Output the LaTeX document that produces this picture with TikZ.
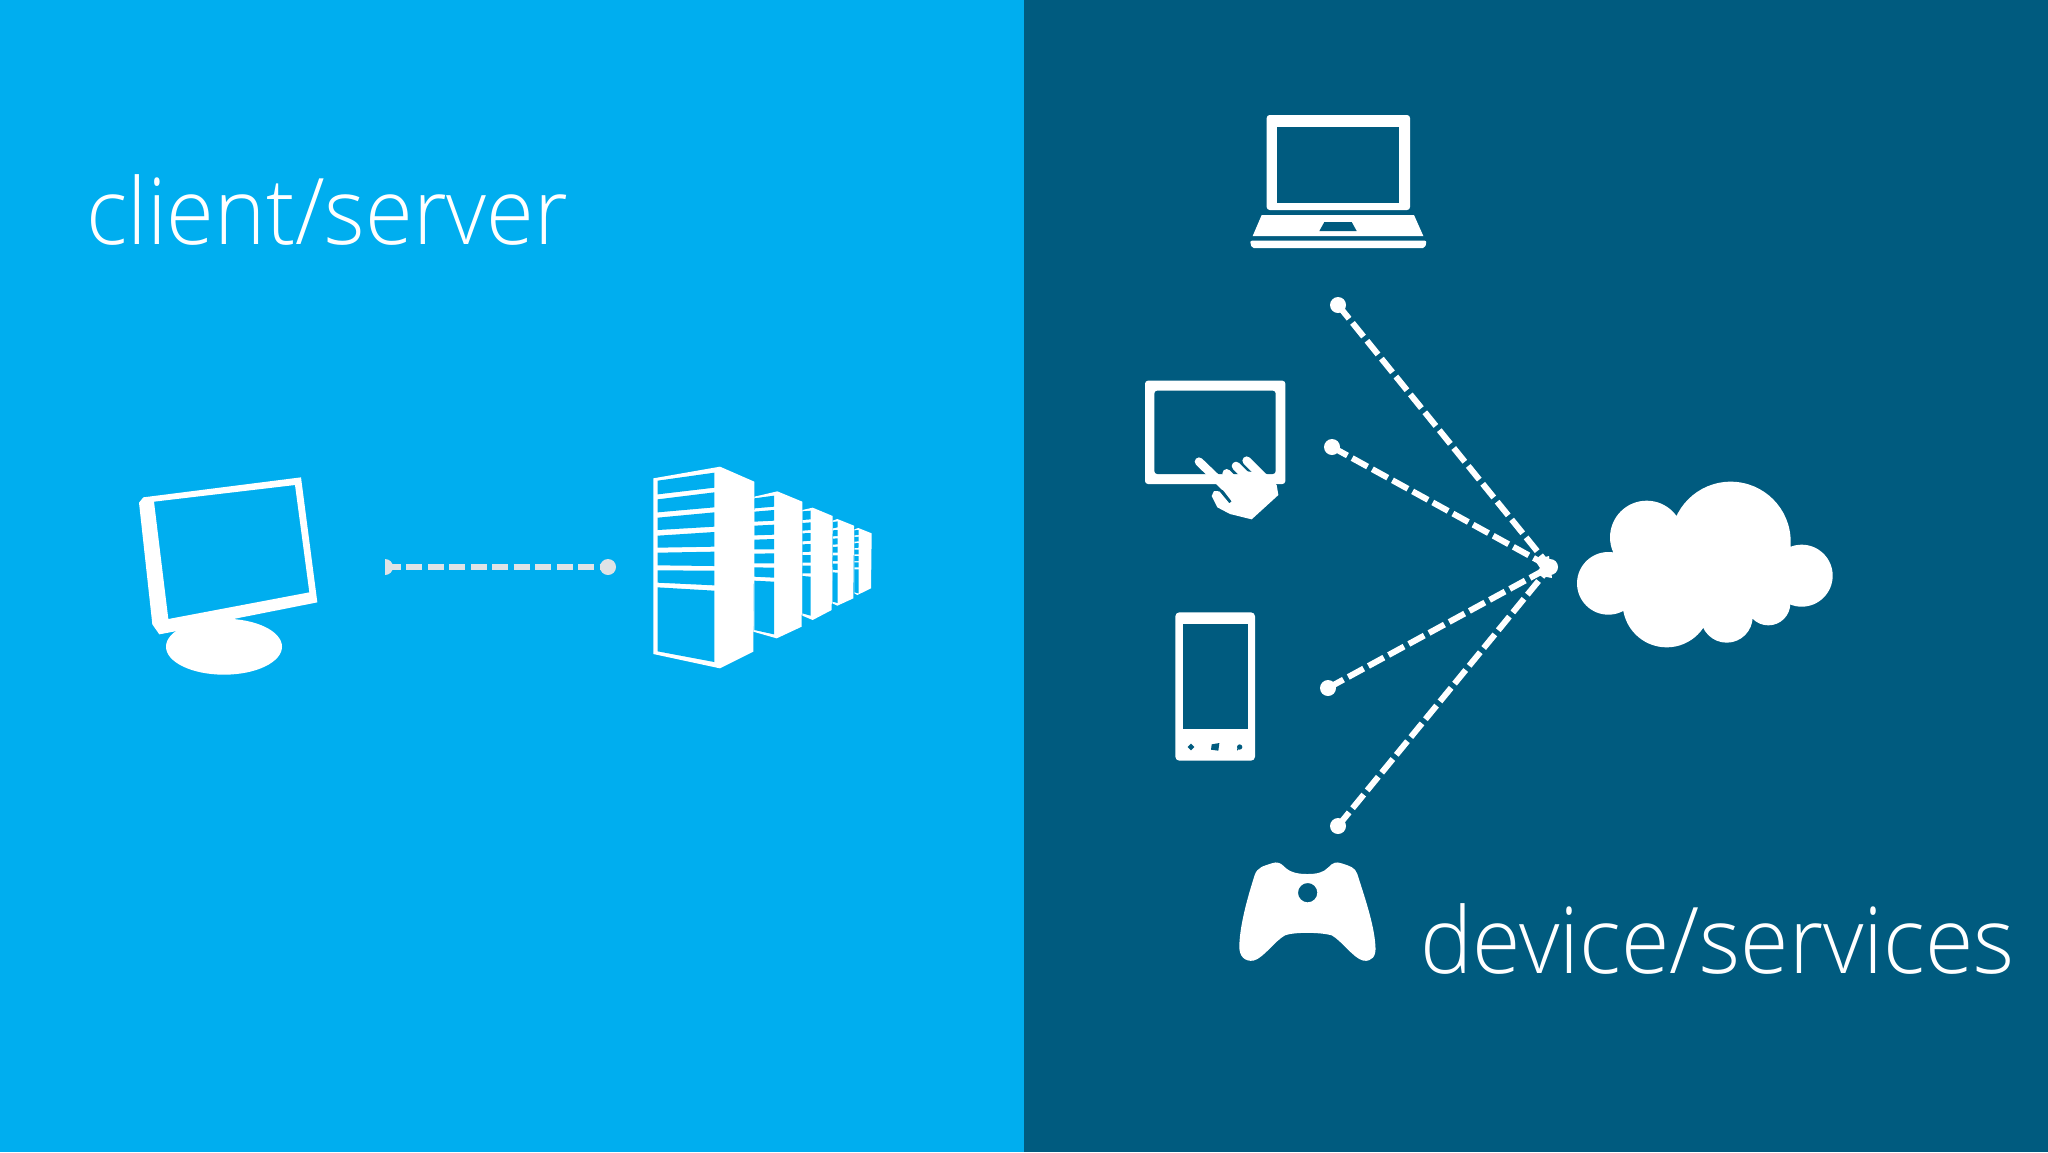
\documentclass[tikz,border=0pt]{standalone}
\usepackage{fontspec}
\setmainfont{Open Sans Light}
\definecolor{skyside}{HTML}{00AEEF}
\definecolor{deepside}{HTML}{005B7F}
\definecolor{palelink}{HTML}{DFE3E6}
\tikzset{
  px/.style={x=0.5pt,y=-0.5pt},
  zoomed/.style 2 args={xshift=#1*0.5pt,yshift=-#2*0.5pt,x=0.166667pt,y=-0.166667pt},
  linkline/.style={line width=2.7pt,dash pattern=on 8pt off 2.725pt},
  spokeline/.style={white,line width=3pt,dash pattern=on 8.8pt off 2.7pt},
  dot/.style={circle,fill=#1,inner sep=0pt,minimum size=8pt},
  bigtitle/.style={text=white,inner sep=0pt,anchor=base west}
}
\begin{document}
\begin{tikzpicture}[px]
\useasboundingbox (0,0) rectangle (2048,1152);
\fill[skyside] (0,0) rectangle (1024,1152);
\fill[deepside] (1024,0) rectangle (2048,1152);
\node[bigtitle,font=\fontsize{46}{46}\selectfont\addfontfeatures{FakeStretch=0.945}] (t1) at (86,244) {client/server};
\node[bigtitle,font=\fontsize{46}{46}\selectfont\addfontfeatures{FakeStretch=0.957}] (t2) at (1420,973) {device/services};
% monitor
\begin{scope}[zoomed={120}{450}]
\fill[white,even odd rule] (543,82)--(70,142)--(57,158)--(97,523)--(118,553)--(160,545)--(360,503)--(592,457)--cycle
 (525,105)--(102,155)--(145,507)--(568,427)--cycle;
\fill[white] (312,590) ellipse [x radius=174,y radius=84];
\end{scope}
% left link
\node[dot=palelink] (srv) at (608,567) {};
\coordinate (cli) at (385,567);
\fill[palelink] (385,575) arc[start angle=-90,end angle=90,x radius=8,y radius=-8] -- cycle;
\draw[palelink,linkline] (cli) -- (srv);
% servers
\begin{scope}[zoomed={640}{450}]
\fill[white] (655,234)--(695,250)--(693,415)--(652,435)--(643,430)--(643,238)--cycle;
\fill[skyside] (643,241)--(656,240)--(656,255)--(643,256)--cycle (643,261)--(656,260)--(656,274)--(643,275)--cycle
 (643,280)--(656,279)--(656,293)--(643,294)--cycle (643,299)--(656,299)--(656,313)--(643,313)--cycle
 (643,318)--(656,318)--(656,333)--(643,333)--cycle (643,337)--(656,337)--(656,352)--(643,352)--cycle
 (643,358)--(656,358)--(656,430)--(643,427)--cycle;
\fill[white] (592,207)--(642,227)--(640,445)--(592,467)--(577,460)--(578,212)--cycle;
\fill[skyside] (578,216)--(593,214)--(593,232)--(578,235)--cycle (578,241)--(593,240)--(593,258)--(578,259)--cycle
 (578,266)--(593,265)--(593,283)--(578,284)--cycle (578,291)--(593,290)--(593,308)--(578,308)--cycle
 (578,316)--(593,316)--(593,333)--(578,333)--cycle (578,341)--(593,341)--(593,360)--(578,359)--cycle
 (578,367)--(593,368)--(593,459)--(578,455)--cycle;
\fill[white] (518,173)--(578,198)--(575,480)--(518,510)--(487,497)--(487,180)--cycle;
\fill[skyside] (487,184)--(512,182)--(512,208)--(487,210)--cycle (487,219)--(512,217)--(512,240)--(487,242)--cycle
 (487,250)--(512,249)--(512,272)--(487,274)--cycle (487,283)--(512,282)--(512,305)--(487,306)--cycle
 (487,315)--(512,315)--(512,338)--(487,338)--cycle (487,347)--(512,347)--(512,370)--(487,370)--cycle
 (487,378)--(512,380)--(512,497)--(487,490)--cycle;
\fill[white] (412,124)--(487,155)--(485,530)--(410,565)--(340,545)--(343,140)--cycle;
\fill[skyside] (343,145)--(402,137)--(402,170)--(343,175)--cycle (343,185)--(402,180)--(402,212)--(343,215)--cycle
 (343,227)--(402,224)--(402,254)--(343,256)--cycle (343,269)--(402,267)--(402,298)--(343,298)--cycle
 (343,311)--(402,310)--(402,340)--(343,340)--cycle (343,352)--(402,353)--(402,383)--(343,380)--cycle
 (343,392)--(402,395)--(402,553)--(343,540)--cycle;
\fill[white] (40,85)--(240,50)--(343,95)--(340,605)--(240,655)--(40,612)--cycle;
\fill[skyside] (53,92)--(223,68)--(223,113)--(53,133)--cycle (53,148)--(223,127)--(223,172)--(53,187)--cycle
 (53,203)--(223,187)--(223,230)--(53,240)--cycle (53,257)--(223,246)--(223,290)--(53,293)--cycle
 (53,308)--(223,305)--(223,348)--(53,346)--cycle (53,361)--(223,362)--(223,406)--(53,398)--cycle
 (53,412)--(223,422)--(223,636)--(53,604)--cycle;
\end{scope}
% laptop
\begin{scope}[zoomed={1230}{100}]
\fill[white,rounded corners=1.5pt] (110,45) rectangle (540,330);
\fill[deepside] (140,80) rectangle (508,308);
\fill[white] (95,345)--(552,345)--(580,408)--(68,408)--cycle;
\fill[deepside] (283,366)--(365,366)--(380,393)--(268,393)--cycle;
\fill[white,rounded corners=1pt] (60,422)--(590,422)--(585,444)--(65,444)--cycle;
\end{scope}
% tablet
\begin{scope}[zoomed={1130}{370}]
\fill[white,rounded corners=1.5pt] (45,32) rectangle (466,342);
\fill[deepside,rounded corners=1.5pt] (73,62) rectangle (437,312);
\draw[white,line width=4.3pt,line cap=round] (207,275)--(285,350) (290,310)--(325,345) (318,288)--(357,327) (350,272)--(400,322);
\fill[white] (262,338)--(298,342)--(325,324)--(352,304)--(410,312)--(440,345)--(445,375)--(365,448)--(300,432)--(262,412)--(245,378)--(252,363)--(268,364)--(298,400)--(305,394)--cycle;
\end{scope}
% phone
\begin{scope}[zoomed={1160}{600}]
\fill[white,rounded corners=2pt] (46,37) rectangle (285,482);
\fill[deepside] (68,72) rectangle (265,388);
\fill[deepside] (93,431)--(103,441)--(93,451)--(83,441)--cycle;
\fill[deepside] (155,433)--(178,429)--(175,452)--(153,449)--cycle;
\fill[deepside] (239,441) circle [radius=8] (231,446)--(236,447)--(232,452)--cycle;
\end{scope}
% controller
\begin{scope}[zoomed={1220}{850}]
\fill[white,even odd rule] (262,72) .. controls (235,72) and (212,68) .. (195,52) .. controls (182,38) and (172,34) .. (155,40)
 .. controls (130,48) and (112,52) .. (104,75) .. controls (85,135) and (60,220) .. (58,285) .. controls (56,320) and (75,335) .. (100,332)
 .. controls (130,325) and (165,272) .. (195,256) .. controls (220,246) and (300,246) .. (335,256)
 .. controls (365,272) and (400,325) .. (430,332) .. controls (455,335) and (470,320) .. (466,285)
 .. controls (462,220) and (430,130) .. (412,72) .. controls (405,52) and (390,48) .. (365,40)
 .. controls (348,34) and (338,38) .. (325,52) .. controls (310,68) and (290,72) .. (262,72) -- cycle
 (263,128) circle [radius=29];
\end{scope}
% cloud
\begin{scope}[zoomed={1500}{460}]
\fill[white] (325,370) circle [radius=94] (692,245) circle [radius=180] (440,232) circle [radius=110]
 (905,347) circle [radius=93] (500,430) circle [radius=132] (680,470) circle [radius=78] (805,430) circle [radius=66];
\fill[white] (400,300) rectangle (850,450);
\end{scope}
% right links
\node[dot=white] (hub) at (1550,567) {};
\node[dot=white] (laptopdot) at (1338,305) {};
\node[dot=white] (tabletdot) at (1332,447) {};
\node[dot=white] (phonedot) at (1328,688) {};
\node[dot=white] (paddot) at (1338,826) {};
\draw[spokeline] (laptopdot.center) -- (hub.center);
\draw[spokeline] (tabletdot.center) -- (hub.center);
\draw[spokeline] (phonedot.center) -- (hub.center);
\draw[spokeline] (paddot.center) -- (hub.center);
\fill[white] (1541,558) -- (1549,556) -- (1552,578) -- (1541,576) -- (1536,573) -- (1540,568) -- (1536,562) -- cycle;
\end{tikzpicture}
\end{document}
